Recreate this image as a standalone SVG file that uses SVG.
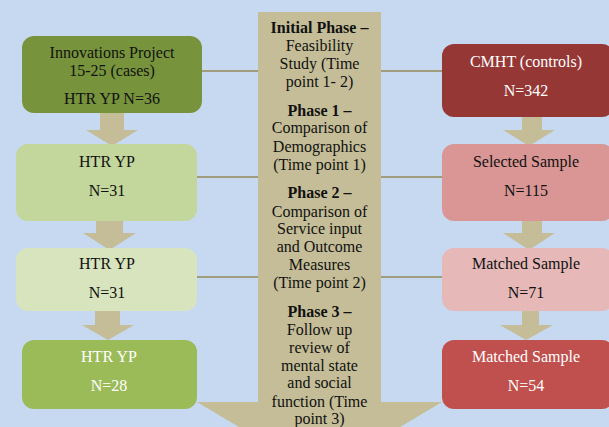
<svg xmlns="http://www.w3.org/2000/svg" width="609" height="427" viewBox="0 0 609 427">
  <style>
    text { font-family: "Liberation Serif", "Times New Roman", serif; font-size: 16px; text-anchor: middle; }
    .dark { fill: #111111; }
    .light { fill: #ffffff; }
    .b { font-weight: bold; }
    .flow { fill: #c4bd97; }
    .link { stroke: #948a54; stroke-width: 1.5; fill: none; }
  </style>
  <rect width="609" height="427" fill="#c6d9f0"/>

  <!-- horizontal links between the case and control columns -->
  <g id="connectors">
    <line class="link" x1="202" y1="71" x2="442" y2="71"/>
    <line class="link" x1="197" y1="177" x2="442" y2="177"/>
    <line class="link" x1="197" y1="277" x2="442" y2="277"/>
  </g>

  <!-- central phase arrow -->
  <g id="phases">
    <polygon class="flow" points="258,12 381,12 381,402 442,402 319.5,475 197,402 258,402"/>
    <text x="319.5" y="33" class="dark b">Initial Phase –</text>
    <text x="319.5" y="51" class="dark">Feasibility</text>
    <text x="319.5" y="69" class="dark">Study (Time</text>
    <text x="319.5" y="87" class="dark">point 1- 2)</text>
    <text x="319.5" y="116" class="dark b">Phase 1 –</text>
    <text x="319.5" y="133" class="dark">Comparison of</text>
    <text x="319.5" y="152" class="dark">Demographics</text>
    <text x="319.5" y="170" class="dark">(Time point 1)</text>
    <text x="319.5" y="198" class="dark b">Phase 2 –</text>
    <text x="319.5" y="217" class="dark">Comparison of</text>
    <text x="319.5" y="234" class="dark">Service input</text>
    <text x="319.5" y="252" class="dark">and Outcome</text>
    <text x="319.5" y="270" class="dark">Measures</text>
    <text x="319.5" y="288" class="dark">(Time point 2)</text>
    <text x="319.5" y="317" class="dark b">Phase 3 –</text>
    <text x="319.5" y="335" class="dark">Follow up</text>
    <text x="319.5" y="353" class="dark">review of</text>
    <text x="319.5" y="371" class="dark">mental state</text>
    <text x="319.5" y="388" class="dark">and social</text>
    <text x="319.5" y="407" class="dark">function (Time</text>
    <text x="319.5" y="424" class="dark">point 3)</text>
  </g>

  <!-- step arrows between boxes -->
  <g id="steps">
    <polygon class="flow" points="100,110 124,110 124,130 138,130 112,146 86,130 100,130"/>
    <polygon class="flow" points="96,218 123,218 123,233 136,233 109.5,250 83,233 96,233"/>
    <polygon class="flow" points="95,308 120,308 120,325 134,325 108,340 82,325 95,325"/>
    <polygon class="flow" points="522,114 542,114 542,130 555,130 529,146 503,130 522,130"/>
    <polygon class="flow" points="522,218 542,218 542,233 555,233 529,250 503,233 522,233"/>
    <polygon class="flow" points="522,308 539,308 539,325 553,325 526,340 500,325 522,325"/>
  </g>

  <!-- case column -->
  <g id="cases-start">
    <rect x="22" y="36" width="180" height="77" rx="12" fill="#77933c"/>
    <text x="112" y="58" class="dark">Innovations Project</text>
    <text x="112" y="76" class="dark">15-25 (cases)</text>
    <text x="112" y="104" class="dark">HTR YP N=36</text>
  </g>
  <g id="cases-2">
    <rect x="16" y="144" width="181" height="77" rx="12" fill="#c3d69b"/>
    <text x="107" y="167" class="dark">HTR YP</text>
    <text x="107" y="196" class="dark">N=31</text>
  </g>
  <g id="cases-3">
    <rect x="16" y="248" width="181" height="63" rx="12" fill="#d7e4bd"/>
    <text x="107" y="269" class="dark">HTR YP</text>
    <text x="107" y="298" class="dark">N=31</text>
  </g>
  <g id="cases-4">
    <rect x="22" y="340" width="175" height="69" rx="12" fill="#9bbb59"/>
    <text x="109" y="362" class="light">HTR YP</text>
    <text x="109" y="391" class="light">N=28</text>
  </g>

  <!-- control column -->
  <g id="controls-start">
    <rect x="442" y="44" width="172" height="73" rx="12" fill="#953735"/>
    <text x="526" y="67" class="light">CMHT (controls)</text>
    <text x="526" y="96" class="light">N=342</text>
  </g>
  <g id="controls-2">
    <rect x="442" y="144" width="172" height="77" rx="12" fill="#d99694"/>
    <text x="526" y="167" class="dark">Selected Sample</text>
    <text x="526" y="196" class="dark">N=115</text>
  </g>
  <g id="controls-3">
    <rect x="442" y="248" width="172" height="63" rx="12" fill="#e6b9b8"/>
    <text x="526" y="269" class="dark">Matched Sample</text>
    <text x="526" y="298" class="dark">N=71</text>
  </g>
  <g id="controls-4">
    <rect x="442" y="340" width="172" height="69" rx="12" fill="#c0504d"/>
    <text x="526" y="362" class="light">Matched Sample</text>
    <text x="526" y="391" class="light">N=54</text>
  </g>
</svg>
